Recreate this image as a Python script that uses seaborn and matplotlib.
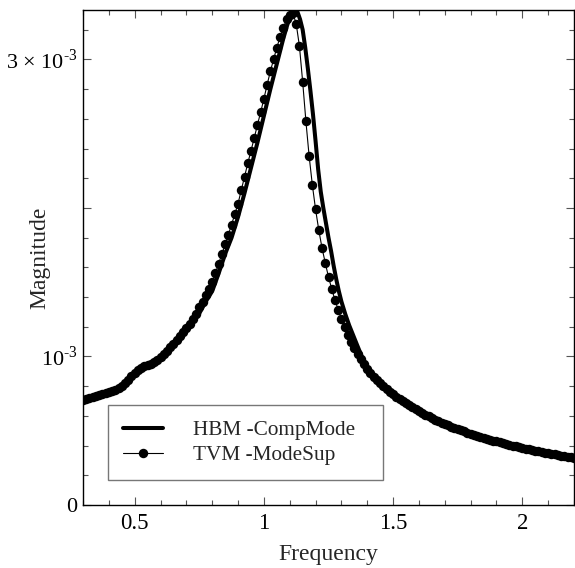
import matplotlib
matplotlib.use("Agg")
import matplotlib.pyplot as plt
import pandas as pd
import seaborn as sns
from matplotlib.ticker import MultipleLocator

# TVM -ModeSup (points), magnitude in units of 1e-3
tvm_freq = [
    0.3000, 0.3125, 0.3250, 0.3375, 0.3500, 0.3625, 0.3750, 0.3875, 0.4000, 0.4125,
    0.4250, 0.4375, 0.4500, 0.4625, 0.4750, 0.4875, 0.5000, 0.5125, 0.5250, 0.5375,
    0.5500, 0.5625, 0.5750, 0.5875, 0.6000, 0.6125, 0.6250, 0.6375, 0.6500, 0.6625,
    0.6750, 0.6875, 0.7000, 0.7125, 0.7250, 0.7375, 0.7500, 0.7625, 0.7750, 0.7875,
    0.8000, 0.8125, 0.8250, 0.8375, 0.8500, 0.8625, 0.8750, 0.8875, 0.9000, 0.9125,
    0.9250, 0.9375, 0.9500, 0.9625, 0.9750, 0.9875, 1.0000, 1.0125, 1.0250, 1.0375,
    1.0500, 1.0625, 1.0750, 1.0875, 1.1000, 1.1125, 1.1250, 1.1375, 1.1500, 1.1625,
    1.1750, 1.1875, 1.2000, 1.2125, 1.2250, 1.2375, 1.2500, 1.2625, 1.2750, 1.2875,
    1.3000, 1.3125, 1.3250, 1.3375, 1.3500, 1.3625, 1.3750, 1.3875, 1.4000, 1.4125,
    1.4250, 1.4375, 1.4500, 1.4625, 1.4750, 1.4875, 1.5000, 1.5125, 1.5250, 1.5375,
    1.5500, 1.5625, 1.5750, 1.5875, 1.6000, 1.6125, 1.6250, 1.6375, 1.6500, 1.6625,
    1.6750, 1.6875, 1.7000, 1.7125, 1.7250, 1.7375, 1.7500, 1.7625, 1.7750, 1.7875,
    1.8000, 1.8125, 1.8250, 1.8375, 1.8500, 1.8625, 1.8750, 1.8875, 1.9000, 1.9125,
    1.9250, 1.9375, 1.9500, 1.9625, 1.9750, 1.9875, 2.0000, 2.0125, 2.0250, 2.0375,
    2.0500, 2.0625, 2.0750, 2.0875, 2.1000, 2.1125, 2.1250, 2.1375, 2.1500, 2.1625,
    2.1750, 2.1875, 2.2000,
]
tvm_mag = [
    0.710, 0.716, 0.722, 0.728, 0.734, 0.740, 0.746, 0.753, 0.760, 0.768,
    0.777, 0.788, 0.802, 0.820, 0.842, 0.866, 0.889, 0.908, 0.922, 0.933,
    0.942, 0.952, 0.964, 0.979, 0.997, 1.017, 1.039, 1.062, 1.086, 1.111,
    1.137, 1.164, 1.192, 1.221, 1.251, 1.285, 1.330, 1.370, 1.413, 1.456,
    1.500, 1.562, 1.625, 1.690, 1.755, 1.820, 1.888, 1.958, 2.030, 2.120,
    2.210, 2.300, 2.385, 2.470, 2.560, 2.645, 2.735, 2.830, 2.920, 3.000,
    3.080, 3.150, 3.210, 3.270, 3.300, 3.310, 3.240, 3.090, 2.850, 2.585,
    2.350, 2.155, 1.990, 1.850, 1.730, 1.630, 1.535, 1.455, 1.380, 1.315,
    1.255, 1.200, 1.148, 1.100, 1.055, 1.015, 0.980, 0.947, 0.917, 0.889,
    0.864, 0.841, 0.820, 0.800, 0.781, 0.763, 0.746, 0.730, 0.715, 0.700,
    0.685, 0.671, 0.658, 0.645, 0.632, 0.620, 0.608, 0.596, 0.585, 0.575,
    0.565, 0.555, 0.545, 0.536, 0.527, 0.518, 0.510, 0.502, 0.495, 0.487,
    0.480, 0.473, 0.466, 0.460, 0.453, 0.447, 0.440, 0.434, 0.428, 0.422,
    0.416, 0.411, 0.405, 0.400, 0.395, 0.390, 0.385, 0.380, 0.375, 0.371,
    0.366, 0.362, 0.357, 0.353, 0.349, 0.345, 0.341, 0.337, 0.333, 0.329,
    0.325, 0.322, 0.318,
]

# HBM -CompMode (solid line), magnitude in units of 1e-3
hbm_freq = [
    0.30, 0.35, 0.40, 0.425, 0.45, 0.475, 0.50, 0.525, 0.55, 0.575,
    0.60, 0.625, 0.65, 0.675, 0.70, 0.725, 0.75, 0.775, 0.80, 0.825,
    0.85, 0.875, 0.90, 0.925, 0.95, 0.975, 1.00, 1.025, 1.05, 1.075,
    1.09, 1.10, 1.11, 1.12, 1.13, 1.14, 1.15, 1.16, 1.17, 1.18,
    1.19, 1.20, 1.21, 1.22, 1.23, 1.24, 1.25, 1.26, 1.27, 1.28,
    1.29, 1.30, 1.315, 1.33, 1.345, 1.36, 1.38, 1.40, 1.425, 1.45,
    1.50, 1.55, 1.60, 1.65, 1.70, 1.75, 1.80, 1.85, 1.90, 1.95,
    2.00, 2.05, 2.10, 2.15, 2.20,
]
hbm_mag = [
    0.705, 0.728, 0.754, 0.771, 0.795, 0.835, 0.882, 0.916, 0.937, 0.958,
    0.990, 1.030, 1.076, 1.125, 1.175, 1.228, 1.290, 1.370, 1.440, 1.560,
    1.690, 1.800, 1.940, 2.100, 2.270, 2.440, 2.620, 2.800, 2.970, 3.140,
    3.230, 3.280, 3.310, 3.330, 3.320, 3.270, 3.200, 3.080, 2.940, 2.790,
    2.630, 2.450, 2.260, 2.110, 2.000, 1.900, 1.800, 1.710, 1.610, 1.520,
    1.440, 1.370, 1.285, 1.210, 1.145, 1.080, 0.995, 0.930, 0.868, 0.820,
    0.746, 0.685, 0.632, 0.585, 0.545, 0.510, 0.480, 0.453, 0.428, 0.405,
    0.385, 0.366, 0.349, 0.333, 0.318,
]

x_ticks = [0.5, 1.0, 1.5, 2.0]
x_labels = ["0.5", "1", "1.5", "2"]
y_ticks = [0.0, 1e-3, 2e-3, 3e-3]
y_labels = ["0", "10$^{\\mathregular{\u20103}}$", "",
            "3 × 10$^{\\mathregular{\u20103}}$"]

hbm = pd.DataFrame({"freq": hbm_freq, "mag": [v * 1e-3 for v in hbm_mag]})
tvm = pd.DataFrame({"freq": tvm_freq, "mag": [v * 1e-3 for v in tvm_mag]})

sns.set_style("ticks")
plt.rcParams["font.family"] = ["Liberation Serif", "DejaVu Serif"]
plt.rcParams["mathtext.fontset"] = "stix"

fig = plt.figure(figsize=(5.75, 5.68), dpi=100)
ax = fig.add_axes([83 / 575, 63 / 568, 491 / 575, 495 / 568])

sns.lineplot(data=hbm, x="freq", y="mag", color="black", linewidth=2.9,
             label="HBM -CompMode", ax=ax)
sns.lineplot(data=tvm, x="freq", y="mag", color="black", linewidth=0.8,
             marker="o", markersize=6.8, markeredgewidth=0,
             label="TVM -ModeSup", ax=ax)

ax.set_xlim(0.3, 2.2)
ax.set_ylim(0, 3.333e-3)
ax.set_xticks(x_ticks)
ax.set_xticklabels(x_labels)
ax.set_yticks(y_ticks)
ax.set_yticklabels(y_labels)
ax.xaxis.set_minor_locator(MultipleLocator(0.1))
ax.yaxis.set_minor_locator(MultipleLocator(2e-4))
ax.tick_params(which="both", direction="in", top=True, right=True,
               color="#555555", labelcolor="black", labelsize=16.5, width=0.8)
ax.tick_params(which="major", length=6)
ax.tick_params(which="minor", length=3.5)
ax.tick_params(axis="x", pad=6)
ax.tick_params(axis="y", pad=4, labelsize=16)
for s in ax.spines.values():
    s.set_color("black")
    s.set_linewidth(1.0)

ax.set_xlabel("Frequency", fontsize=17, labelpad=7)
ax.set_ylabel("Magnitude", fontsize=17)
ax.yaxis.set_label_coords(-0.066, 0.5)

leg = ax.legend(loc="lower left", bbox_to_anchor=(0.051, 0.05, 0.56, 0.15),
                mode="expand", borderaxespad=0,
                frameon=True, fancybox=False, framealpha=1, edgecolor="#777777",
                fontsize=15.3, handlelength=1.9, handletextpad=1.4,
                borderpad=0.7, labelspacing=0.25)
leg.get_frame().set_linewidth(1.0)

fig.savefig("out.png", dpi=100)
